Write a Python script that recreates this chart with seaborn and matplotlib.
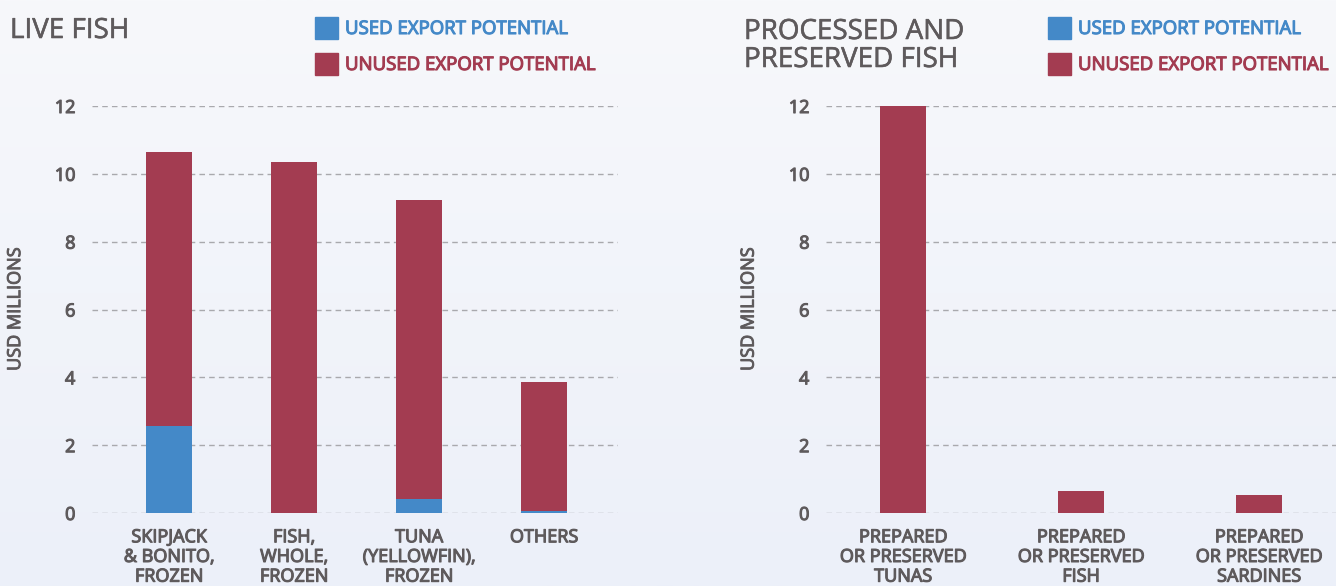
import matplotlib.pyplot as plt
import matplotlib.patheffects as pe
import numpy as np
import pandas as pd
import seaborn as sns
from matplotlib.patches import Rectangle

# values (USD millions)
live_cats = ['SKIPJACK\n& BONITO,\nFROZEN', 'FISH,\nWHOLE,\nFROZEN',
             'TUNA\n(YELLOWFIN),\nFROZEN', 'OTHERS']
live_used = [2.57, 0.0, 0.41, 0.05]
live_unused = [8.08, 10.35, 8.82, 3.81]

proc_cats = ['PREPARED\nOR PRESERVED\nTUNAS', 'PREPARED\nOR PRESERVED\nFISH',
             'PREPARED\nOR PRESERVED\nSARDINES']
proc_used = [0.0, 0.0, 0.0]
proc_unused = [12.0, 0.65, 0.53]

BLUE = '#4489c8'
RED = '#a33c51'
TEXT = '#5e5a5c'
W, H = 1336, 586

sns.set_theme(style='white')
plt.rcParams['font.family'] = ['Open Sans', 'DejaVu Sans']


def heavy(col, w=0.8):
    # fake a semibold weight: the installed Open Sans only has its regular cut
    return [pe.withStroke(linewidth=w, foreground=col)]


fig = plt.figure(figsize=(W / 100, H / 100), dpi=100)

# soft vertical gradient background
bg = fig.add_axes([0, 0, 1, 1], zorder=-10)
grad = np.linspace(0, 1, 256).reshape(-1, 1)
top = np.array([247, 248, 251]) / 255
bottom = np.array([236, 240, 249]) / 255
img = top + (bottom - top) * grad[..., None]
bg.imshow(img, aspect='auto', extent=[0, 1, 0, 1])
bg.axis('off')


def px_axes(x0, x1, y_top, y_bot):
    return fig.add_axes([x0 / W, 1 - y_bot / H, (x1 - x0) / W, (y_bot - y_top) / H])


def draw_panel(ax, cats, used, unused, width, xlim):
    df = pd.DataFrame({'cat': cats, 'used': used, 'unused': unused})
    df['total'] = df['used'] + df['unused']
    sns.barplot(data=df, x='cat', y='total', color=RED, width=width,
                saturation=1, linewidth=0, ax=ax, zorder=3)
    sns.barplot(data=df, x='cat', y='used', color=BLUE, width=width,
                saturation=1, linewidth=0, ax=ax, zorder=4)
    ax.set_facecolor('none')
    ax.set_ylim(0, 12)
    ax.set_xlim(*xlim)
    ax.set_yticks(range(0, 13, 2))
    ax.yaxis.grid(True, linestyle=(0, (4, 3)), color='#a9a9ad', linewidth=1, zorder=0)
    ax.set_axisbelow(True)
    for s in ax.spines.values():
        s.set_visible(False)
    ax.tick_params(axis='both', length=0, colors=TEXT, labelsize=13)
    ax.tick_params(axis='y', pad=12)
    ax.tick_params(axis='x', pad=11)
    for lab in ax.get_xticklabels() + ax.get_yticklabels():
        lab.set_linespacing(1.12)
        lab.set_path_effects(heavy(TEXT))
    ax.set_xlabel('')
    ax.set_ylabel('USD MILLIONS', color=TEXT, fontsize=13,
                  path_effects=heavy(TEXT, 0.7))


ax1 = px_axes(92, 618, 106, 513)
draw_panel(ax1, live_cats, live_used, live_unused, 0.37, (-0.616, 3.592))
ax1.yaxis.set_label_coords(-0.129, 0.5)

ax2 = px_axes(826, 1336, 106, 513)
draw_panel(ax2, proc_cats, proc_used, proc_unused, 0.26, (-0.433, 2.433))
ax2.yaxis.set_label_coords(-0.134, 0.5)

# titles
fig.text(10 / W, 1 - 38 / H, 'LIVE FISH', fontsize=20, color=TEXT, ha='left',
         va='baseline', path_effects=heavy(TEXT, 0.4))
fig.text(744 / W, 1 - 67 / H, 'PROCESSED AND\nPRESERVED FISH', fontsize=20, color=TEXT,
         ha='left', va='baseline', linespacing=1.0, path_effects=heavy(TEXT, 0.4))


# legends
def legend(x, text_x):
    for y, label, col in [(17, 'USED EXPORT POTENTIAL', BLUE), (53, 'UNUSED EXPORT POTENTIAL', RED)]:
        fig.add_artist(Rectangle((x / W, 1 - (y + 22) / H), 23 / W, 22 / H,
                                 transform=fig.transFigure, color=col))
        fig.text(text_x / W, 1 - (y + 12) / H, label, fontsize=13.4, color=col,
                 ha='left', va='center', path_effects=heavy(col))


legend(315, 345)
legend(1048, 1078)

fig.savefig('out.png', dpi=100)
